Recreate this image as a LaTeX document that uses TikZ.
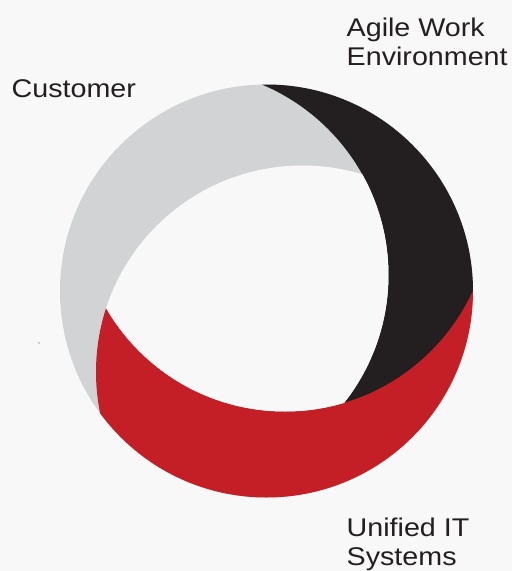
\documentclass[tikz,border=0pt]{standalone}
\usepackage{fontspec}
\newfontfamily\labfont[FakeStretch=1.12]{Liberation Sans}
\definecolor{bg}{HTML}{F8F8F8}
\definecolor{ringgray}{HTML}{D1D3D4}
\definecolor{ringblack}{HTML}{231F20}
\definecolor{ringred}{HTML}{C41F27}
\definecolor{txt}{HTML}{231F20}
\definecolor{dotblue}{HTML}{33407A}
\begin{document}
\begin{tikzpicture}[x=1pt,y=-1pt,
  lbl/.style={font=\labfont\fontsize{25.6}{29}\selectfont, text=txt, inner sep=0pt, align=left, anchor=north west}]
\fill[bg] (0,0) rectangle (512,571);
\useasboundingbox (0,0) rectangle (512,571);
\coordinate (O) at (266.5,291);
\coordinate (Cb) at (182,275);
\coordinate (Cr) at (285,205);
\coordinate (Cg) at (302.5,372);
\begin{scope}
  \clip (O) circle (206.5pt);
  % gray base
  \fill[ringgray] (O) circle (209pt);
  % black band
  \begin{scope}
    \clip (Cr) circle (209pt);
    \fill[ringblack, even odd rule] (O) circle (209pt) (Cb) circle (206.5pt);
  \end{scope}
  % red band
  \begin{scope}
    \clip (Cg) circle (206.5pt);
    \fill[ringred, even odd rule] (O) circle (209pt) (Cr) circle (206.5pt);
  \end{scope}
  % hole
  \begin{scope}
    \clip (Cg) circle (206.5pt);
    \clip (Cb) circle (206.5pt);
    \fill[bg] (Cr) circle (206.5pt);
  \end{scope}
\end{scope}
\node[lbl] (cust) at (11.5,79.9) {Customer};
\node[lbl] (agile) at (346.5,17.6) {Agile Work\\Environment};
\node[lbl] (unif) at (346.5,517.6) {Unified IT\\Systems};
\fill[dotblue] (39,343) circle (0.7pt);
\end{tikzpicture}
\end{document}
